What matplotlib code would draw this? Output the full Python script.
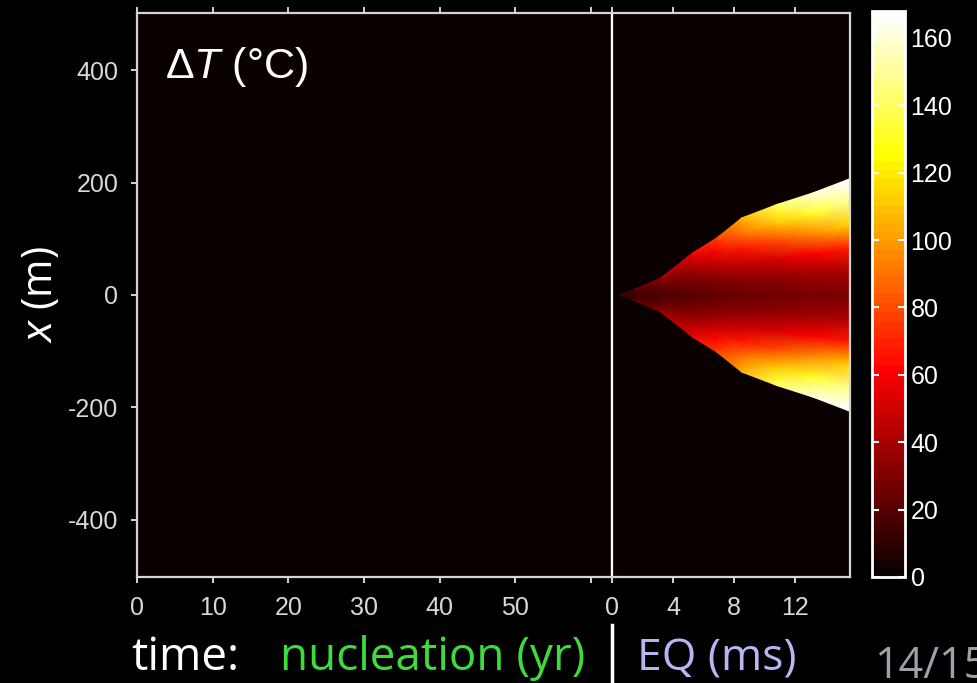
import numpy as np
import matplotlib
matplotlib.use("Agg")
import matplotlib.pyplot as plt
from matplotlib.colors import Normalize
from matplotlib.cm import ScalarMappable

plt.rcParams["mathtext.fontset"] = "custom"
plt.rcParams["mathtext.rm"] = "Liberation Sans"
plt.rcParams["mathtext.it"] = "Liberation Sans:italic"

# nucleation phase: no heating anywhere
nuc_time = [0.0, 62.8]          # yr
nuc_pos = [-502.0, 502.0]       # m
nuc_dT = [[0.0]]                # degC

# dynamic rupture: front half-width and temperature rise along the rupture
eq_time = [0.5, 1.5, 3.2, 5.3, 6.9, 8.5, 10.8, 13.2, 15.6]      # ms
eq_halfwidth = [0, 10, 30, 75, 102, 137, 161, 182, 207]         # m
eq_frac = [0.0, 0.2, 0.4, 0.6, 0.8, 0.95, 1.0]                  # fraction of half-width
eq_dT = [
    [8, 8, 8, 8, 8, 8, 8],
    [14, 14, 15, 16, 17, 18, 18],
    [18, 19, 21, 24, 28, 31, 33],
    [20, 24, 30, 38, 48, 55, 58],
    [22, 27, 37, 50, 64, 74, 78],
    [24, 31, 46, 66, 90, 102, 106],
    [26, 34, 52, 80, 112, 136, 142],
    [27, 37, 60, 96, 132, 156, 161],
    [28, 40, 68, 114, 150, 165, 168],
]

nuc_ticks = [0, 10, 20, 30, 40, 50, 60]
nuc_ticklabels = ["0", "10", "20", "30", "40", "50", ""]
eq_ticks = [0, 4, 8, 12]
y_ticks = [-400, -200, 0, 200, 400]
cb_ticks = [0, 20, 40, 60, 80, 100, 120, 140, 160]

VMIN, VMAX = 0, 168
W, H = 977, 683
spine_col = "#d4d4d4"
label_col = "#d8d8d8"

fig = plt.figure(figsize=(W / 100, H / 100), dpi=100, facecolor="black")


def px_rect(x0, y0, x1, y1):
    return [x0 / W, 1 - y1 / H, (x1 - x0) / W, (y1 - y0) / H]


ax1 = fig.add_axes(px_rect(137, 13, 612, 577))
ax2 = fig.add_axes(px_rect(612, 13, 850, 577))
cax = fig.add_axes(px_rect(872, 11, 905, 577))

norm = Normalize(VMIN, VMAX)
cmap = plt.get_cmap("hot")

ax1.pcolormesh(nuc_time, nuc_pos, np.array(nuc_dT), cmap=cmap, norm=norm, shading="flat")

# curvilinear mesh that follows the rupture front (mirrored about x = 0)
frac = np.array(eq_frac)
full_frac = np.concatenate([-frac[::-1][:-1], frac])
dT = np.array(eq_dT, dtype=float)
full_dT = np.concatenate([dT[:, ::-1][:, :-1], dT], axis=1)
tt = np.repeat(np.array(eq_time)[:, None], full_frac.size, axis=1)
xx = np.array(eq_halfwidth, dtype=float)[:, None] * full_frac[None, :]
ax2.pcolormesh(tt, xx, full_dT, cmap=cmap, norm=norm, shading="gouraud")

for ax in (ax1, ax2):
    ax.set_ylim(-502, 502)
    ax.set_facecolor(cmap(0.0))
    for sp in ax.spines.values():
        sp.set_color(spine_col)
        sp.set_linewidth(1.6)
    ax.tick_params(axis="both", direction="out", length=4.5, width=1.4,
                   color=spine_col, labelcolor=label_col, labelsize=18,
                   top=True, pad=9)

ax1.set_xlim(0, 62.8)
ax1.set_xticks(nuc_ticks)
ax1.set_xticklabels(nuc_ticklabels, family="Liberation Sans")
ax1.set_yticks(y_ticks)
ax1.set_yticklabels([str(v) for v in y_ticks], family="Liberation Sans")

ax2.set_xlim(0, 15.6)
ax2.set_xticks(eq_ticks)
ax2.set_xticklabels([str(v) for v in eq_ticks], family="Liberation Sans")
ax2.tick_params(axis="y", left=False, labelleft=False)
ax2.spines["left"].set_color("white")

ax1.set_ylabel("$x$ (m)", color="white", fontsize=30, family="Open Sans", labelpad=4)

fig.text(165 / W, 1 - 78 / H, "Δ$T$ (°C)", color="white", fontsize=31,
         family="Liberation Sans", ha="left", va="baseline")

# colorbar with the 64-level hot map
sm = ScalarMappable(norm=norm, cmap=plt.get_cmap("hot", 64))
cb = fig.colorbar(sm, cax=cax, ticks=cb_ticks)
cb.outline.set_edgecolor("white")
cb.outline.set_linewidth(2)
cax.tick_params(axis="y", direction="in", length=5, width=1.5, color="white",
                labelcolor="white", labelsize=18, left=True, right=True, pad=4)
for lab in cax.get_yticklabels():
    lab.set_family("Liberation Sans")

# time axis legend along the bottom
fig.text(131 / W, 1 - 670 / H, "time:", color="white", fontsize=33,
         family="Open Sans", va="baseline")
fig.text(280 / W, 1 - 670 / H, "nucleation (yr)", color="#3ddc3d", fontsize=33,
         family="Open Sans", va="baseline")
fig.text(637 / W, 1 - 670 / H, "EQ (ms)", color="#b6b6f2", fontsize=32,
         family="Open Sans", va="baseline")
fig.text(874 / W, 1 - 678 / H, "14/15", color="#a0a0aa", fontsize=31,
         family="Open Sans", va="baseline")
fig.add_artist(plt.Line2D([612 / W, 612 / W], [0, 1 - 625 / H], color="white",
                          lw=2.5, transform=fig.transFigure))

fig.savefig("out.png", dpi=100, facecolor="black")
